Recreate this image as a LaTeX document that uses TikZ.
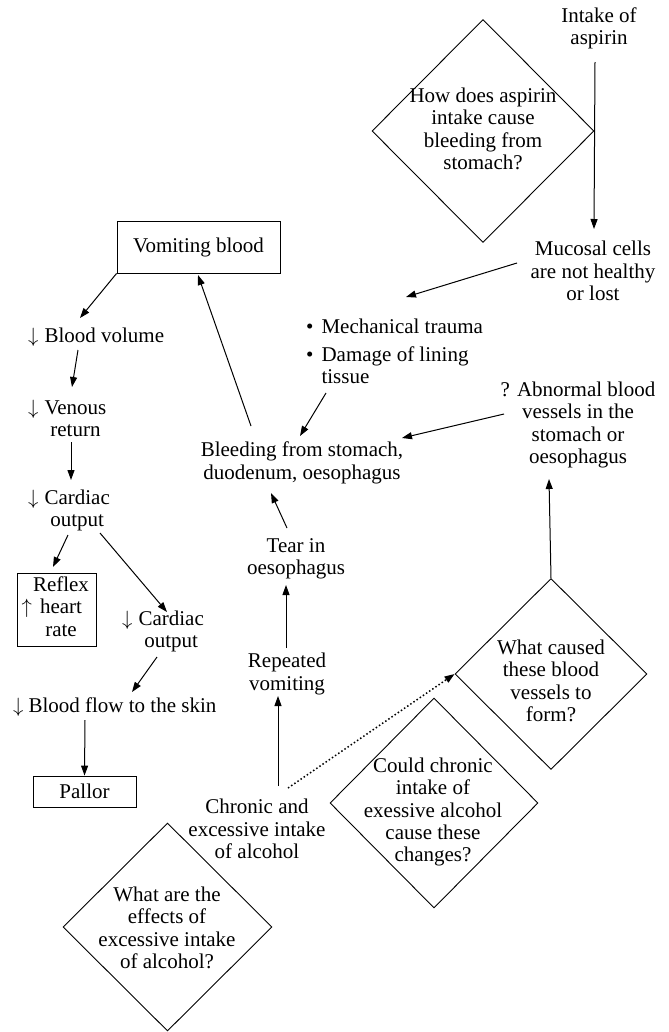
\documentclass[tikz,border=0pt]{standalone}
\usepackage{fontspec}
\setmainfont{Liberation Serif}
\usetikzlibrary{arrows.meta,shapes.geometric}
\newcommand\myDown{{\fontsize{19bp}{19bp}\selectfont$\downarrow$}}
\newcommand\myUp{{\fontsize{19bp}{19bp}\selectfont$\uparrow$}}
\begin{document}
\begin{tikzpicture}[x=1bp,y=-1bp,
  font=\fontsize{21bp}{22.3bp}\selectfont,
  txt/.style={inner sep=0pt, align=center},
  lft/.style={inner sep=0pt, anchor=base west},
  boxed/.style={draw, line width=0.9bp, inner sep=0pt},
  diam/.style={draw, diamond, line width=0.9bp, inner sep=0pt},
  arr/.style={line width=1bp, -{Triangle[length=10bp,width=7bp]}},
  dotarr/.style={line width=1.5bp, dash pattern=on 1.5bp off 2.3bp, -{Triangle[length=10bp,width=7bp]}}]
\useasboundingbox (0,0) rectangle (669,1032);

% diamonds
\node[diam, minimum width=222bp, minimum height=223bp] (aspq) at (483,131) {};
\node[txt] (aspt) at (483,129) {How does aspirin\\intake cause\\bleeding from\\stomach?};
\node[diam, minimum width=192bp, minimum height=191bp] (wcq) at (551,674) {};
\node[txt] (wct) at (551,681) {What caused\\these blood\\vessels to\\form?};
\node[diam, minimum width=208bp, minimum height=210bp] (ccq) at (434,803) {};
\node[txt] (cct) at (433,812) {Could chronic\\intake of\\exessive alcohol\\cause these\\changes?};
\node[diam, minimum width=209bp, minimum height=208bp] (effq) at (167.5,927) {};
\node[txt] (efft) at (167,928) {What are the\\effects of\\excessive intake\\of alcohol?};

% right / middle texts
\node[txt] (intake) at (599,28) {Intake of\\aspirin};
\node[txt] (mucosal) at (593,271) {Mucosal cells\\are not healthy\\or lost};
\node[lft] (bul) at (306,333) {\begin{tabular}[t]{@{}l@{\hspace{8bp}}l@{}}\textbullet & Mechanical trauma\\[5.7bp]\textbullet & Damage of lining\\ & tissue\end{tabular}};
\node[txt] (bleed) at (302,463) {Bleeding from stomach,\\duodenum, oesophagus};
\node[txt] (abn) at (578,425) {? Abnormal blood\\vessels in the\\stomach or\\oesophagus};
\node[txt] (tear) at (296,559) {Tear in\\oesophagus};
\node[txt] (rep) at (287,674) {Repeated\\vomiting};
\node[txt] (chronic) at (257,829) {Chronic and\\excessive intake\\of alcohol};

% left column
\node[boxed, minimum width=163bp, minimum height=52bp] (vom) at (198.5,247) {\raisebox{-2bp}{Vomiting blood}};
\node[lft] (blvol) at (28,342) {\myDown\hspace{6bp}Blood volume};
\node[lft] (venous) at (28,414) {\myDown\hspace{6bp}\begin{tabular}[t]{@{}c@{}}Venous\\return\end{tabular}};
\node[lft] (card1) at (28,504) {\myDown\hspace{6bp}\begin{tabular}[t]{@{}c@{}}Cardiac\\output\end{tabular}};
\node[boxed, minimum width=79bp, minimum height=73bp] (reflex) at (56.5,609.5) {\hspace*{9bp}\begin{tabular}{@{}c@{}}Reflex\\\llap{\myUp\hspace{8bp}}heart\\rate\end{tabular}};
\node[lft] (card2) at (122,625) {\myDown\hspace{6bp}\begin{tabular}[t]{@{}c@{}}Cardiac\\output\end{tabular}};
\node[lft] (bflow) at (13,712) {\myDown\hspace{5bp}Blood flow to the skin};
\node[boxed, minimum width=103bp, minimum height=31bp] (pallor) at (84.5,791.5) {Pallor};

% connectors
\draw[arr] ([shift={(-4,34)}]intake.center) -- ([shift={(1,-42)}]mucosal.center);
\draw[arr] ([shift={(-76,-8)}]mucosal.center) -- ([shift={(100,-36)}]bul.base west);
\draw[arr] ([shift={(20,60)}]bul.base west) -- ([shift={(-2,-27)}]bleed.center);
\draw[arr] ([shift={(-51,-37)}]bleed.center) -- ([shift={(-0.5,28)}]vom.center);
\draw[arr] (vom.south west) -- ([shift={(52,-24)}]blvol.base west);
\draw[arr] ([shift={(50,8)}]blvol.base west) -- ([shift={(44,-27)}]venous.base west);
\draw[arr] ([shift={(43,28)}]venous.base west) -- ([shift={(43,-24)}]card1.base west);
\draw[arr] ([shift={(40,31)}]card1.base west) -- ([shift={(-3.5,-42.5)}]reflex.center);
\draw[arr] ([shift={(72,29)}]card1.base west) -- ([shift={(45,-13)}]card2.base west);
\draw[arr] ([shift={(35,32)}]card2.base west) -- ([shift={(119,-20)}]bflow.base west);
\draw[arr] ([shift={(72,8)}]bflow.base west) -- (pallor.north);
\draw[arr] ([shift={(-9,-31)}]tear.center) -- ([shift={(-31,30)}]bleed.center);
\draw[arr] ([shift={(-1,-26)}]rep.center) -- ([shift={(-10,26)}]tear.center);
\draw[arr] ([shift={(21,-43)}]chronic.center) -- ([shift={(-9,22)}]rep.center);
\draw[dotarr] ([shift={(31,-41)}]chronic.center) -- (wcq.west);
\draw[arr] (wcq.north) -- ([shift={(-29,54)}]abn.center);
\draw[arr] ([shift={(-74,-11)}]abn.center) -- ([shift={(100,-25)}]bleed.center);
\end{tikzpicture}
\end{document}
